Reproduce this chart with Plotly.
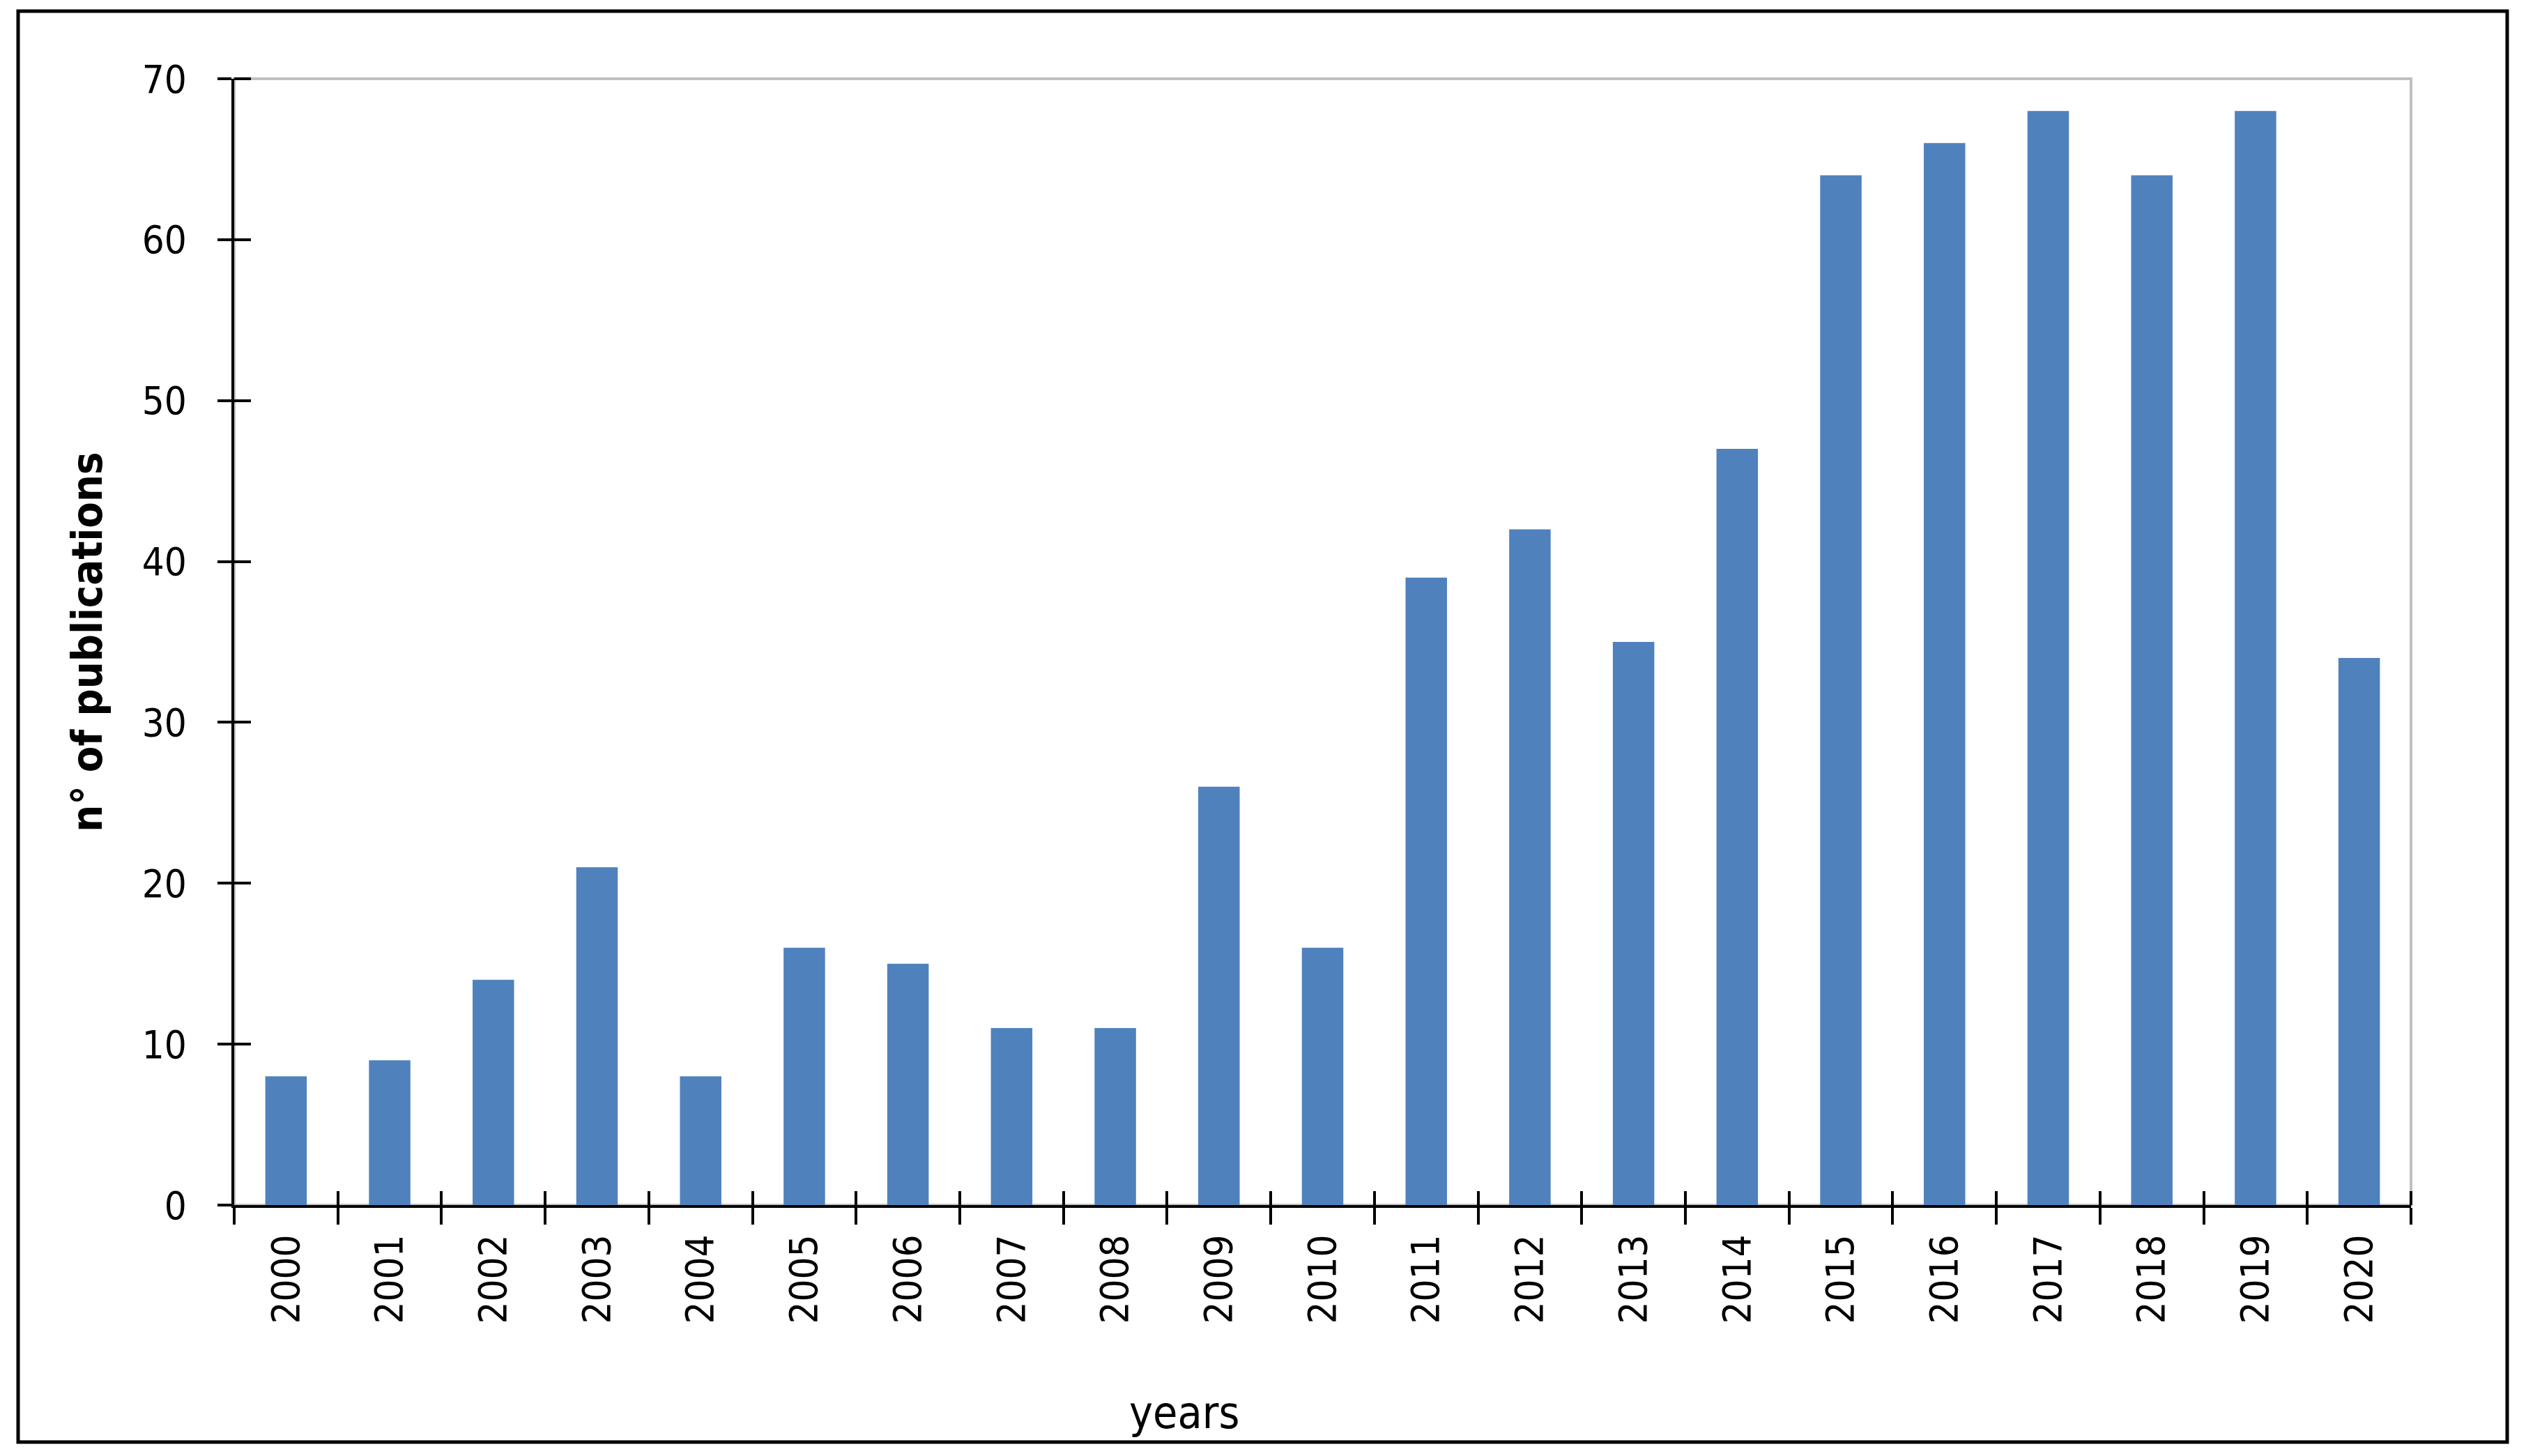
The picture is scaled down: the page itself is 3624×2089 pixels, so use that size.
import plotly.graph_objects as go

# ---- data ----
years = [str(y) for y in range(2000, 2021)]
publications = [8, 9, 14, 21, 8, 16, 15, 11, 11, 26, 16, 39, 42, 35, 47, 64, 66, 68, 64, 68, 34]
y_ticks = [0, 10, 20, 30, 40, 50, 60, 70]
Y_MAX = 70

# ---- layout constants (pixels) ----
W, H = 3624, 2089
L, R, T, B = 336, 3459, 113, 1729      # visible plot frame
PAD = 12                               # extra room so end ticks of the helper axes are not clipped
PW, PH = R - L, B - T
PW2, PH2 = PW + PAD, PH + PAD

FONT = "Tahoma, 'DejaVu Sans Condensed', 'Liberation Sans', Arial, sans-serif"
BAR = "#4F81BD"

def px_x(px):
    return (px - L) / PW2

def px_y(py):
    return (B - py) / PH2

n = len(years)
fig = go.Figure()
fig.add_trace(go.Bar(
    x=years, y=publications, marker=dict(color=BAR, line=dict(width=0)),
    width=0.4, xaxis="x", yaxis="y", showlegend=False, hoverinfo="x+y",
))
# helper trace for the inside half of the crossing tick marks
bounds = [i - 0.5 for i in range(n + 1)]
fig.add_trace(go.Scatter(
    x=bounds, y=[0] * len(bounds), mode="markers", marker=dict(opacity=0, size=1),
    xaxis="x2", yaxis="y2", showlegend=False, hoverinfo="skip",
))

fig.update_layout(
    width=W, height=H,
    margin=dict(l=L, r=W - (R + PAD), t=T - PAD, b=H - B, pad=0),
    paper_bgcolor="white", plot_bgcolor="rgba(0,0,0,0)",
    font=dict(family=FONT, color="black", size=56),
    bargap=0.6,
    xaxis=dict(
        type="category", categoryorder="array", categoryarray=years,
        range=[-0.5, n - 0.5], domain=[0, PW / PW2],
        showline=True, linecolor="black", linewidth=4,
        ticks="outside", ticklen=24, tickwidth=4, tickcolor="black",
        tickson="boundaries", tickangle=-90,
        tickfont=dict(size=56, family=FONT), ticklabelstandoff=16,
        showgrid=False, zeroline=False,
    ),
    xaxis2=dict(
        anchor="y2", side="bottom", type="linear", domain=[0, 1],
        range=[-0.5, -0.5 + n * PW2 / PW],
        tickmode="array", tickvals=bounds, showticklabels=False,
        ticks="inside", ticklen=20, tickwidth=4, tickcolor="black",
        showline=False, showgrid=False, zeroline=False,
    ),
    yaxis=dict(
        range=[0, Y_MAX], tickvals=y_ticks, domain=[0, PH / PH2],
        showline=True, linecolor="black", linewidth=4,
        ticks="outside", ticklen=20, tickwidth=4, tickcolor="black",
        tickfont=dict(size=56, family=FONT), ticklabelstandoff=33,
        showgrid=False, zeroline=False,
        title=dict(text="<b>n° of publications</b>", font=dict(size=61, family=FONT), standoff=38),
    ),
    yaxis2=dict(
        anchor="x2", side="left", domain=[0, 1],
        range=[0, Y_MAX * PH2 / PH], tickmode="array", tickvals=y_ticks, showticklabels=False,
        ticks="inside", ticklen=24, tickwidth=4, tickcolor="black",
        showline=False, showgrid=False, zeroline=False,
    ),
    shapes=[
        # gray plot frame
        dict(type="rect", xref="paper", yref="paper", x0=0, x1=px_x(R), y0=0, y1=px_y(T),
             line=dict(color="#C0C0C0", width=4), layer="below"),
        # outer chart border
        dict(type="rect", xref="paper", yref="paper",
             x0=px_x(26), x1=px_x(3597), y0=px_y(2069), y1=px_y(16),
             line=dict(color="black", width=5), layer="above"),
    ],
    annotations=[
        dict(text="years", xref="paper", yref="paper", x=px_x(1699), y=px_y(2027),
             xanchor="center", yanchor="middle", showarrow=False,
             font=dict(size=64, family=FONT, color="black")),
    ],
)

fig.write_html("out.html", config={"displayModeBar": False},
               post_script="document.body.style.margin='0px';")
